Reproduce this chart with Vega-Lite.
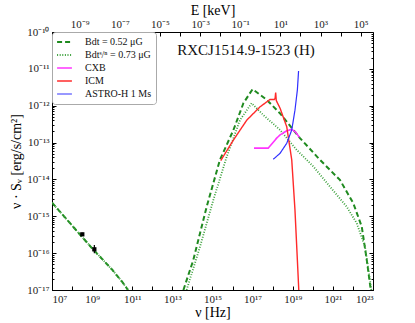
{
  "$schema": "https://vega.github.io/schema/vega-lite/v6.json",
  "width": 321,
  "height": 258,
  "autosize": {"type": "none"},
  "padding": {"left": 52, "top": 32, "right": 42, "bottom": 33},
  "background": "white",
  "config": {
    "font": "Liberation Serif",
    "view": {"stroke": "black", "strokeWidth": 1},
    "axis": {"labelFont": "Liberation Serif", "labelFontSize": 11, "labelColor": "#222", "tickColor": "black", "domainColor": "black", "grid": false, "titleFont": "Liberation Serif", "titleFontWeight": "normal", "titleFontSize": 14, "titleColor": "black"},
    "legend": {"labelFont": "Liberation Serif", "labelFontSize": 10, "labelColor": "#111"}
  },
  "datasets": {
    "curves": [
      {"s": "Bdt = 0.52 μG", "g": "sync", "nu": 1e7, "S": 2.34e-15},
      {"s": "Bdt = 0.52 μG", "g": "sync", "nu": 1e8, "S": 5.62e-16},
      {"s": "Bdt = 0.52 μG", "g": "sync", "nu": 1e9, "S": 1.35e-16},
      {"s": "Bdt = 0.52 μG", "g": "sync", "nu": 1e10, "S": 3.55e-17},
      {"s": "Bdt = 0.52 μG", "g": "sync", "nu": 3.16e10, "S": 1.66e-17},
      {"s": "Bdt = 0.52 μG", "g": "sync", "nu": 6.17e10, "S": 1e-17},
      {"s": "Bdt = 0.52 μG", "g": "ic", "nu": 3.55e13, "S": 1e-17},
      {"s": "Bdt = 0.52 μG", "g": "ic", "nu": 1.10e14, "S": 6.46e-17},
      {"s": "Bdt = 0.52 μG", "g": "ic", "nu": 5.13e14, "S": 1.82e-15},
      {"s": "Bdt = 0.52 μG", "g": "ic", "nu": 2.34e15, "S": 3.39e-14},
      {"s": "Bdt = 0.52 μG", "g": "ic", "nu": 1.10e16, "S": 2.19e-13},
      {"s": "Bdt = 0.52 μG", "g": "ic", "nu": 3.47e16, "S": 1.17e-12},
      {"s": "Bdt = 0.52 μG", "g": "ic", "nu": 1e17, "S": 2.82e-12},
      {"s": "Bdt = 0.52 μG", "g": "ic", "nu": 5.01e17, "S": 1.45e-12},
      {"s": "Bdt = 0.52 μG", "g": "ic", "nu": 2.34e18, "S": 6.17e-13},
      {"s": "Bdt = 0.52 μG", "g": "ic", "nu": 2.29e19, "S": 1.32e-13},
      {"s": "Bdt = 0.52 μG", "g": "ic", "nu": 2.29e20, "S": 3.39e-14},
      {"s": "Bdt = 0.52 μG", "g": "ic", "nu": 2.29e21, "S": 9.55e-15},
      {"s": "Bdt = 0.52 μG", "g": "ic", "nu": 1.05e22, "S": 2.24e-15},
      {"s": "Bdt = 0.52 μG", "g": "ic", "nu": 2.75e22, "S": 5.25e-16},
      {"s": "Bdt = 0.52 μG", "g": "ic", "nu": 4.90e22, "S": 6.46e-17},
      {"s": "Bdt = 0.52 μG", "g": "ic", "nu": 7.76e22, "S": 1e-17},
      {"s": "Bdtˢ/ⁿ = 0.73 μG", "g": "sync", "nu": 1e7, "S": 2.34e-15},
      {"s": "Bdtˢ/ⁿ = 0.73 μG", "g": "sync", "nu": 1e8, "S": 5.62e-16},
      {"s": "Bdtˢ/ⁿ = 0.73 μG", "g": "sync", "nu": 1e9, "S": 1.35e-16},
      {"s": "Bdtˢ/ⁿ = 0.73 μG", "g": "sync", "nu": 1e10, "S": 3.55e-17},
      {"s": "Bdtˢ/ⁿ = 0.73 μG", "g": "sync", "nu": 3.16e10, "S": 1.66e-17},
      {"s": "Bdtˢ/ⁿ = 0.73 μG", "g": "sync", "nu": 6.17e10, "S": 1e-17},
      {"s": "Bdtˢ/ⁿ = 0.73 μG", "g": "ic", "nu": 5.13e13, "S": 1e-17},
      {"s": "Bdtˢ/ⁿ = 0.73 μG", "g": "ic", "nu": 2.40e14, "S": 1.51e-16},
      {"s": "Bdtˢ/ⁿ = 0.73 μG", "g": "ic", "nu": 1.10e15, "S": 2.75e-15},
      {"s": "Bdtˢ/ⁿ = 0.73 μG", "g": "ic", "nu": 5.13e15, "S": 4.17e-14},
      {"s": "Bdtˢ/ⁿ = 0.73 μG", "g": "ic", "nu": 2.34e16, "S": 4.07e-13},
      {"s": "Bdtˢ/ⁿ = 0.73 μG", "g": "ic", "nu": 8.91e16, "S": 1.17e-12},
      {"s": "Bdtˢ/ⁿ = 0.73 μG", "g": "ic", "nu": 3.39e17, "S": 5.62e-13},
      {"s": "Bdtˢ/ⁿ = 0.73 μG", "g": "ic", "nu": 2.34e18, "S": 2.19e-13},
      {"s": "Bdtˢ/ⁿ = 0.73 μG", "g": "ic", "nu": 1.58e19, "S": 6.31e-14},
      {"s": "Bdtˢ/ⁿ = 0.73 μG", "g": "ic", "nu": 1.07e20, "S": 2.24e-14},
      {"s": "Bdtˢ/ⁿ = 0.73 μG", "g": "ic", "nu": 7.24e20, "S": 6.31e-15},
      {"s": "Bdtˢ/ⁿ = 0.73 μG", "g": "ic", "nu": 4.90e21, "S": 1.82e-15},
      {"s": "Bdtˢ/ⁿ = 0.73 μG", "g": "ic", "nu": 1.55e22, "S": 6.46e-16},
      {"s": "Bdtˢ/ⁿ = 0.73 μG", "g": "ic", "nu": 3.98e22, "S": 1.51e-16},
      {"s": "Bdtˢ/ⁿ = 0.73 μG", "g": "ic", "nu": 7.08e22, "S": 1.86e-17},
      {"s": "Bdtˢ/ⁿ = 0.73 μG", "g": "ic", "nu": 8.32e22, "S": 1e-17},
      {"s": "CXB", "g": "a", "nu": 1.17e17, "S": 7.08e-14},
      {"s": "CXB", "g": "a", "nu": 6.03e17, "S": 7.08e-14},
      {"s": "CXB", "g": "a", "nu": 1.58e18, "S": 1.32e-13},
      {"s": "CXB", "g": "a", "nu": 2.34e18, "S": 1.62e-13},
      {"s": "CXB", "g": "a", "nu": 5.01e18, "S": 2.09e-13},
      {"s": "CXB", "g": "a", "nu": 8.91e18, "S": 2.29e-13},
      {"s": "CXB", "g": "a", "nu": 1.41e19, "S": 1.91e-13},
      {"s": "CXB", "g": "a", "nu": 2.14e19, "S": 1.38e-13},
      {"s": "ICM", "g": "a", "nu": 2.57e15, "S": 3.24e-14},
      {"s": "ICM", "g": "a", "nu": 1.10e16, "S": 1.17e-13},
      {"s": "ICM", "g": "a", "nu": 5.13e16, "S": 4.07e-13},
      {"s": "ICM", "g": "a", "nu": 2.34e17, "S": 9.33e-13},
      {"s": "ICM", "g": "a", "nu": 7.41e17, "S": 1.48e-12},
      {"s": "ICM", "g": "a", "nu": 1.20e18, "S": 1.48e-12},
      {"s": "ICM", "g": "a", "nu": 1.32e18, "S": 1.58e-12},
      {"s": "ICM", "g": "a", "nu": 1.41e18, "S": 2.29e-12},
      {"s": "ICM", "g": "a", "nu": 1.51e18, "S": 1.38e-12},
      {"s": "ICM", "g": "a", "nu": 2.34e18, "S": 8.51e-13},
      {"s": "ICM", "g": "a", "nu": 5.01e18, "S": 2.69e-13},
      {"s": "ICM", "g": "a", "nu": 8.91e18, "S": 3.39e-14},
      {"s": "ICM", "g": "a", "nu": 1.29e19, "S": 1.48e-15},
      {"s": "ICM", "g": "a", "nu": 1.70e19, "S": 6.46e-17},
      {"s": "ICM", "g": "a", "nu": 2.00e19, "S": 1e-17},
      {"s": "ASTRO-H 1 Ms", "g": "a", "nu": 1.07e18, "S": 3.55e-14},
      {"s": "ASTRO-H 1 Ms", "g": "a", "nu": 1.26e18, "S": 3.80e-14},
      {"s": "ASTRO-H 1 Ms", "g": "a", "nu": 2.34e18, "S": 5.13e-14},
      {"s": "ASTRO-H 1 Ms", "g": "a", "nu": 5.01e18, "S": 9.55e-14},
      {"s": "ASTRO-H 1 Ms", "g": "a", "nu": 8.91e18, "S": 2.19e-13},
      {"s": "ASTRO-H 1 Ms", "g": "a", "nu": 1.29e19, "S": 7.59e-13},
      {"s": "ASTRO-H 1 Ms", "g": "a", "nu": 1.70e19, "S": 2.69e-12},
      {"s": "ASTRO-H 1 Ms", "g": "a", "nu": 1.95e19, "S": 8.71e-12}
    ],
    "radio": [
      {"nu": 3.24e8, "S": 3.24e-16, "lo": 2.95e-16, "hi": 3.55e-16},
      {"nu": 1.29e9, "S": 1.27e-16, "lo": 1.0e-16, "hi": 1.66e-16}
    ]
  },
  "layer": [
    {
      "layer": [
        {
          "data": {"name": "curves"},
          "mark": {"type": "line", "clip": true},
          "encoding": {
            "x": {"field": "nu", "type": "quantitative", "scale": {"type": "log", "domain": [1e7, 1e23], "nice": false},
              "axis": {"orient": "bottom", "title": "ν [Hz]", "values": [1e7,1e8,1e9,1e10,1e11,1e12,1e13,1e14,1e15,1e16,1e17,1e18,1e19,1e20,1e21,1e22,1e23], "tickSize": -4, "labelPadding": 7, "titlePadding": 1,
                "labelExpr": "(round(log(datum.value)/LN10) % 2 == 0) ? '' : '10' + replace(replace(replace(replace(replace(replace(replace(replace(replace(replace(replace('' + round(log(datum.value)/LN10), regexp('-','g'),'⁻'), regexp('0','g'),'⁰'), regexp('1','g'),'¹'), regexp('2','g'),'²'), regexp('3','g'),'³'), regexp('4','g'),'⁴'), regexp('5','g'),'⁵'), regexp('6','g'),'⁶'), regexp('7','g'),'⁷'), regexp('8','g'),'⁸'), regexp('9','g'),'⁹')"}},
            "y": {"field": "S", "type": "quantitative", "scale": {"type": "log", "domain": [1e-17, 1e-10], "nice": false},
              "axis": {"orient": "left", "title": "ν · Sᵥ [erg/s/cm²]", "values": [1e-17,1e-16,1e-15,1e-14,1e-13,1e-12,1e-11,1e-10], "tickSize": -4, "labelPadding": 7, "titlePadding": 3,
                "labelExpr": "'10' + replace(replace(replace(replace(replace(replace(replace(replace(replace(replace(replace('' + round(log(datum.value)/LN10), regexp('-','g'),'⁻'), regexp('0','g'),'⁰'), regexp('1','g'),'¹'), regexp('2','g'),'²'), regexp('3','g'),'³'), regexp('4','g'),'⁴'), regexp('5','g'),'⁵'), regexp('6','g'),'⁶'), regexp('7','g'),'⁷'), regexp('8','g'),'⁸'), regexp('9','g'),'⁹')"}},
            "detail": {"field": "g", "type": "nominal"},
            "color": {"field": "s", "type": "nominal",
              "scale": {"domain": ["Bdt = 0.52 μG", "Bdtˢ/ⁿ = 0.73 μG", "CXB", "ICM", "ASTRO-H 1 Ms"], "range": ["#1f8a1f", "#3aa03a", "#ff33ff", "#ff2a2a", "#3030ff"]},
              "legend": {"title": null, "orient": "top-left", "offset": 0, "padding": 4, "fillColor": "white", "strokeColor": "#aaa", "cornerRadius": 3, "symbolType": "stroke", "symbolSize": 220, "symbolStrokeWidth": 1.6, "labelOffset": 12, "rowPadding": 1, "clipHeight": 12, "labelFontSize": 10}},
            "strokeDash": {"field": "s", "type": "nominal",
              "scale": {"domain": ["Bdt = 0.52 μG", "Bdtˢ/ⁿ = 0.73 μG", "CXB", "ICM", "ASTRO-H 1 Ms"], "range": [[5, 3], [1, 1.6], [1, 0], [1, 0], [1, 0]]}},
            "strokeWidth": {"field": "s", "type": "nominal", "legend": null,
              "scale": {"domain": ["Bdt = 0.52 μG", "Bdtˢ/ⁿ = 0.73 μG", "CXB", "ICM", "ASTRO-H 1 Ms"], "range": [2, 1.2, 1.6, 1.6, 1.6]}}
          }
        },
        {
          "data": {"name": "radio"},
          "mark": {"type": "rule", "color": "black", "strokeWidth": 1.2},
          "encoding": {
            "x": {"field": "nu", "type": "quantitative"},
            "y": {"field": "lo", "type": "quantitative"},
            "y2": {"field": "hi"}
          }
        },
        {
          "data": {"name": "radio"},
          "mark": {"type": "square", "color": "black", "opacity": 1, "size": 18},
          "encoding": {
            "x": {"field": "nu", "type": "quantitative"},
            "y": {"field": "S", "type": "quantitative"}
          }
        },
        {
          "data": {"values": [{"label": "RXCJ1514.9-1523 (H)", "nu": 4.68e16, "S": 3.24e-11}]},
          "mark": {"type": "text", "fontSize": 15, "font": "Liberation Serif", "color": "#111", "align": "center", "baseline": "middle"},
          "encoding": {
            "x": {"field": "nu", "type": "quantitative"},
            "y": {"field": "S", "type": "quantitative"},
            "text": {"field": "label"}
          }
        }
      ]
    },
    {
      "data": {"values": [{"E": 4.1357e-11, "S": 1e-15}, {"E": 4.1357e5, "S": 1e-15}]},
      "mark": {"type": "point", "opacity": 0},
      "encoding": {
        "x": {"field": "E", "type": "quantitative", "scale": {"type": "log", "domain": [4.1357e-11, 4.1357e5], "nice": false},
          "axis": {"orient": "top", "title": "E [keV]", "values": [1e-10,1e-9,1e-8,1e-7,1e-6,1e-5,1e-4,1e-3,1e-2,1e-1,1,10,100,1e3,1e4,1e5], "tickSize": -4, "labelPadding": 7, "titlePadding": 1, "domain": false,
            "labelExpr": "(round(log(datum.value)/LN10) % 2 == 0) ? '' : '10' + replace(replace(replace(replace(replace(replace(replace(replace(replace(replace(replace('' + round(log(datum.value)/LN10), regexp('-','g'),'⁻'), regexp('0','g'),'⁰'), regexp('1','g'),'¹'), regexp('2','g'),'²'), regexp('3','g'),'³'), regexp('4','g'),'⁴'), regexp('5','g'),'⁵'), regexp('6','g'),'⁶'), regexp('7','g'),'⁷'), regexp('8','g'),'⁸'), regexp('9','g'),'⁹')"}},
        "y": {"field": "S", "type": "quantitative", "scale": {"type": "log", "domain": [1e-17, 1e-10], "nice": false},
          "axis": {"orient": "right", "title": null, "labels": false, "domain": false, "values": [1e-17,1e-16,1e-15,1e-14,1e-13,1e-12,1e-11,1e-10], "tickSize": -4}}
      }
    },
    {
      "data": {"values": [{"S": 1e-15}]},
      "mark": {"type": "point", "opacity": 0},
      "encoding": {
        "y": {"field": "S", "type": "quantitative", "scale": {"type": "log", "domain": [1e-17, 1e-10], "nice": false},
          "axis": {"orient": "left", "title": null, "labels": false, "domain": false, "tickSize": -2,
            "values": [2e-17,3e-17,4e-17,5e-17,6e-17,7e-17,8e-17,9e-17,2e-16,3e-16,4e-16,5e-16,6e-16,7e-16,8e-16,9e-16,2e-15,3e-15,4e-15,5e-15,6e-15,7e-15,8e-15,9e-15,2e-14,3e-14,4e-14,5e-14,6e-14,7e-14,8e-14,9e-14,2e-13,3e-13,4e-13,5e-13,6e-13,7e-13,8e-13,9e-13,2e-12,3e-12,4e-12,5e-12,6e-12,7e-12,8e-12,9e-12,2e-11,3e-11,4e-11,5e-11,6e-11,7e-11,8e-11,9e-11]}}
      }
    },
    {
      "data": {"values": [{"S": 1e-15}]},
      "mark": {"type": "point", "opacity": 0},
      "encoding": {
        "y": {"field": "S", "type": "quantitative", "scale": {"type": "log", "domain": [1e-17, 1e-10], "nice": false},
          "axis": {"orient": "right", "title": null, "labels": false, "domain": false, "tickSize": -2,
            "values": [2e-17,3e-17,4e-17,5e-17,6e-17,7e-17,8e-17,9e-17,2e-16,3e-16,4e-16,5e-16,6e-16,7e-16,8e-16,9e-16,2e-15,3e-15,4e-15,5e-15,6e-15,7e-15,8e-15,9e-15,2e-14,3e-14,4e-14,5e-14,6e-14,7e-14,8e-14,9e-14,2e-13,3e-13,4e-13,5e-13,6e-13,7e-13,8e-13,9e-13,2e-12,3e-12,4e-12,5e-12,6e-12,7e-12,8e-12,9e-12,2e-11,3e-11,4e-11,5e-11,6e-11,7e-11,8e-11,9e-11]}}
      }
    }
  ],
  "resolve": {"scale": {"x": "independent", "y": "independent"}, "axis": {"x": "independent", "y": "independent"}}
}
